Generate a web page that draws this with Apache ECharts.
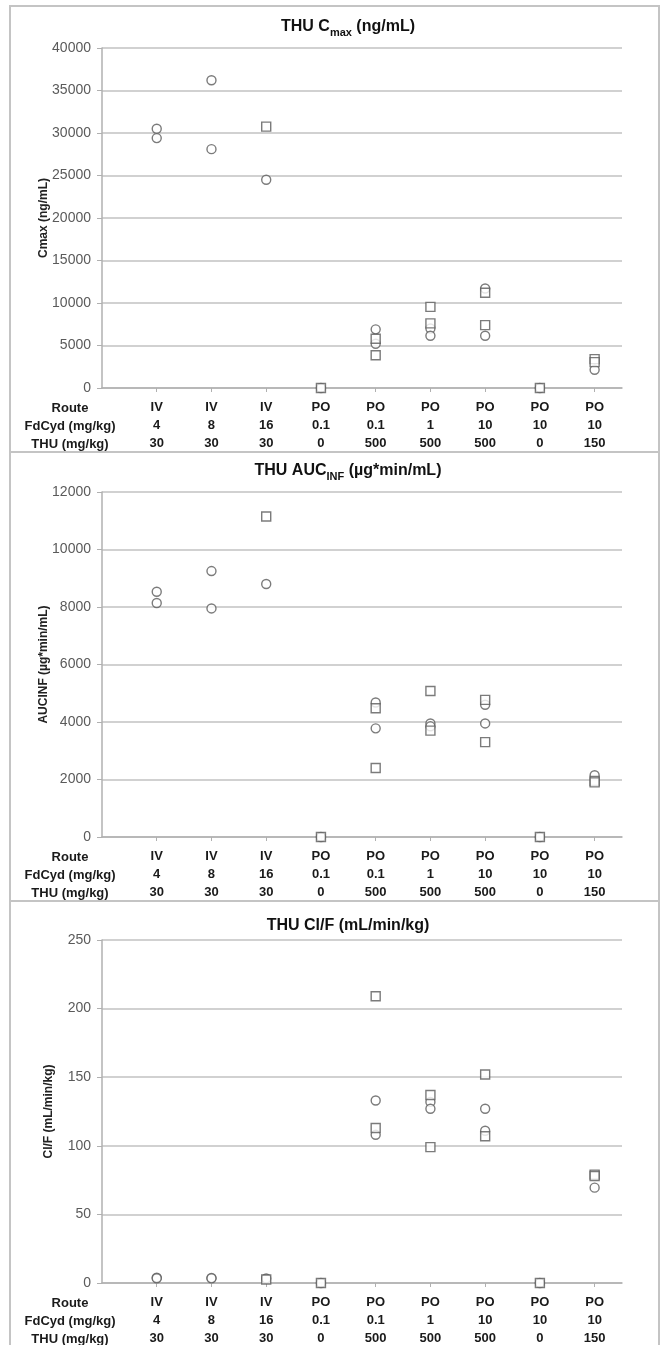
<!DOCTYPE html>
<html>
<head>
<meta charset="utf-8">
<script src="https://cdn.jsdelivr.net/npm/echarts@6/dist/echarts.min.js"></script>
<style>html,body{margin:0;padding:0;background:#fff;}#c{width:661px;height:1345px;}</style>
</head>
<body>
<div id="c"></div>
<script>
// ---- category table (x axis) ----
const routes    = ['IV','IV','IV','PO','PO','PO','PO','PO','PO'];
const fdcydDose = ['4','8','16','0.1','0.1','1','10','10','10'];
const thuDose   = ['30','30','30','0','500','500','500','0','150'];
const headerRows = ['Route','FdCyd (mg/kg)','THU (mg/kg)'];
const catPositions = [1,2,3,4,5,6,7,8,9];

// ---- THU Cmax (ng/mL): [category position, value] ----
const cmaxCircle = [[1,30500],[1,29400],[2,36200],[2,28100],[3,24500],[4,0],[5,6900],[5,5200],[6,7000],[6,6150],[7,11700],[7,6150],[8,0],[9,2150]];
const cmaxSquare = [[3,30750],[4,0],[5,5800],[5,3850],[6,9550],[6,7600],[7,11200],[7,7400],[8,0],[9,3400],[9,3050]];

// ---- THU AUCINF (ug*min/mL) ----
const aucCircle = [[1,8530],[1,8140],[2,9250],[2,7950],[3,8800],[4,0],[5,4680],[5,3780],[6,3950],[6,3850],[7,4600],[7,3950],[8,0],[9,2150]];
const aucSquare = [[3,11150],[4,0],[5,4480],[5,2400],[6,5080],[6,3700],[7,4770],[7,3300],[8,0],[9,1950],[9,1900]];

// ---- THU Cl/F (mL/min/kg) ----
const clfCircle = [[1,3.9],[1,3.5],[2,3.7],[2,3.4],[3,3.3],[4,0],[5,133],[5,108],[6,132],[6,127],[7,127],[7,111],[8,0],[9,69.5]];
const clfSquare = [[3,2.5],[4,0],[5,209],[5,113],[6,137],[6,99],[7,152],[7,107],[8,0],[9,79],[9,78]];

// ---- y axis ticks ----
const yTicks = [
  {min:0, max:40000, interval:5000, name:'Cmax (ng/mL)', gap:52},
  {min:0, max:12000, interval:2000, name:'AUCINF (µg*min/mL)', gap:52},
  {min:0, max:250, interval:50, name:'Cl/F (mL/min/kg)', gap:47}
];
const titles = [
  '{a|THU C}{s|max}{a| (ng/mL)}',
  '{a|THU AUC}{s|INF}{a| (µg*min/mL)}',
  '{a|THU Cl/F (mL/min/kg)}'
];

const FONT = '"Liberation Sans", Arial, sans-serif';
const grids = [
  {left:102, right:39, top:48, height:340},
  {left:102, right:39, top:492, height:345},
  {left:102, right:39, top:940, height:343}
];
const titleTops = [11, 455, 910];
const panels = [[6,446],[452,449],[901,470]];
const LABEL_MARGIN = 11;
const ROW_H = 17.8;

function xLabel(v){
  const i = catPositions.indexOf(Number(v));
  if (i < 0) return '';
  return '{b|' + routes[i] + '}\n{b|' + fdcydDose[i] + '}\n{b|' + thuDose[i] + '}';
}

const axisGray = '#b0b0b0';
const gridLineColor = '#c2c2c2';
const xAxes = grids.map((g,i) => ({
  type:'value', gridIndex:i, min:0, max:9.5,
  axisLine:{show:true, onZero:false, lineStyle:{color:axisGray, width:1.5}},
  axisTick:{show:true, inside:false, length:4, customValues:catPositions, lineStyle:{color:axisGray}},
  splitLine:{show:false},
  axisLabel:{
    customValues:catPositions,
    hideOverlap:false,
    margin:LABEL_MARGIN, formatter:xLabel, color:'#1a1a1a',
    rich:{
      b:{fontFamily:FONT, fontWeight:'bold', fontSize:13, lineHeight:ROW_H, color:'#1a1a1a', align:'center'}
    }
  }
}));
const yAxes = yTicks.map((t,i) => ({
  type:'value', gridIndex:i, min:t.min, max:t.max, interval:t.interval,
  name:t.name, nameLocation:'middle', nameGap:t.gap, nameMoveOverlap:false,
  nameTextStyle:{fontFamily:FONT, fontWeight:'bold', fontSize:12, color:'#222'},
  axisLine:{show:true, lineStyle:{color:axisGray, width:1.5}},
  axisTick:{show:true, inside:false, length:5, lineStyle:{color:axisGray}},
  splitLine:{show:true, lineStyle:{color:gridLineColor, width:1.5}},
  axisLabel:{fontFamily:FONT, fontSize:14, color:'#5a5a5a', margin:11, formatter: v => String(v)}
}));

function sc(data, sym, i){
  return {
    type:'scatter', xAxisIndex:i, yAxisIndex:i, data:data,
    symbol:sym, symbolSize:9, silent:true,
    itemStyle:{color:'#ffffff', borderColor:'#5a5a5a', borderWidth:1.4},
    z: sym==='rect'?3:2
  };
}

// header column of the table under each x axis
const headerGraphics = grids.map(g => ({
  type:'text', silent:true,
  x:70, y:g.top + g.height + LABEL_MARGIN + 1,
  style:{
    text: headerRows.join('\n'),
    font: 'bold 13px ' + FONT,
    lineHeight: ROW_H,
    fill:'#1a1a1a', align:'center', verticalAlign:'top'
  }
}));

const option = {
  animation:false,
  backgroundColor:'#ffffff',
  title: titles.map((t,i) => ({
    text:t, left:343, top:titleTops[i], textAlign:'center',
    textStyle:{rich:{
      a:{fontFamily:FONT, fontWeight:'bold', fontSize:16, color:'#111', lineHeight:22},
      s:{fontFamily:FONT, fontWeight:'bold', fontSize:11, color:'#111', lineHeight:12, verticalAlign:'bottom'}
    }}
  })),
  graphic: panels.map(p => ({
    type:'rect', silent:true, z:-10,
    shape:{x:10, y:p[0], width:649, height:p[1]},
    style:{fill:'none', stroke:'#c4c4c4', lineWidth:2}
  })).concat(headerGraphics),
  grid: grids,
  xAxis: xAxes,
  yAxis: yAxes,
  series: [
    sc(cmaxCircle,'circle',0), sc(cmaxSquare,'rect',0),
    sc(aucCircle,'circle',1), sc(aucSquare,'rect',1),
    sc(clfCircle,'circle',2), sc(clfSquare,'rect',2)
  ]
};
const chart = echarts.init(document.getElementById('c'), null, {renderer:'canvas'});
chart.setOption(option);
</script>
</body>
</html>
